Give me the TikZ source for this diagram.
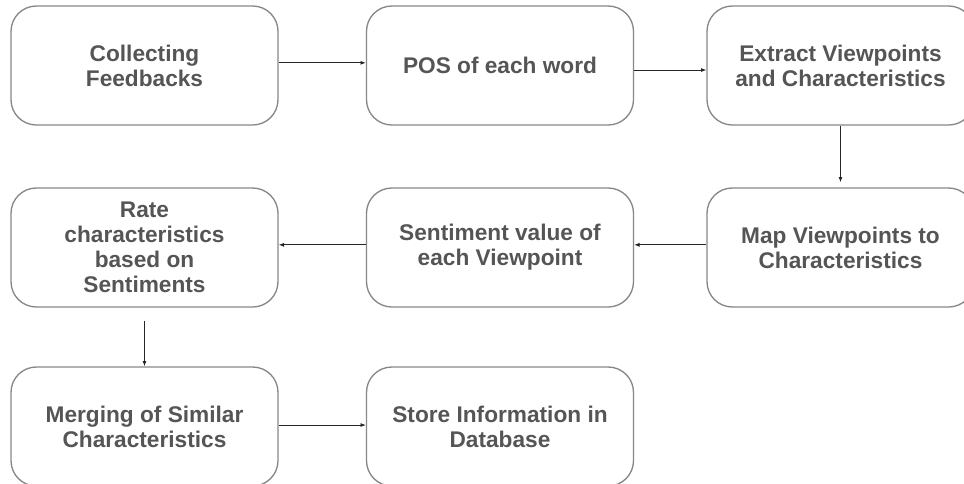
\documentclass[tikz,border=0pt]{standalone}
\usepackage{fontspec}
\setmainfont{Liberation Sans}
\usetikzlibrary{arrows.meta}

\definecolor{boxline}{RGB}{135,135,135}
\definecolor{boxtext}{RGB}{85,85,85}

\tikzset{every picture/.style={line width=0.75pt}}
\tikzset{
  stage/.style={draw=boxline, line width=1pt, rounded corners=19pt,
    minimum width=200.25pt, minimum height=89.25pt, inner sep=0pt,
    align=center, text=boxtext,
    font=\fontsize{17}{18.8}\selectfont\bfseries},
  link/.style={draw=black!85, line width=0.6pt, -{Latex[length=4pt,width=3pt]}}
}

\begin{document}
\begin{tikzpicture}[x=0.75pt,y=0.75pt,yscale=-1,xscale=1]
	\useasboundingbox (0,0) rectangle (964,483);

	%Rounded Rect -- first row
	\node[stage] (collect) at (144.5,65.5) {Collecting\\Feedbacks};
	\node[stage] (pos) at (500,65.5) {POS of each word};
	\node[stage] (extract) at (840.5,65.5) {Extract Viewpoints\\and Characteristics};
	%Rounded Rect -- second row
	\node[stage] (map) at (840.5,247.5) {Map Viewpoints to\\Characteristics};
	\node[stage] (sentiment) at (500,247.5) {Sentiment value of\\each Viewpoint};
	\node[stage] (rate) at (144.5,247.5) {Rate\\characteristics\\based on\\Sentiments};
	%Rounded Rect -- third row
	\node[stage] (merge) at (144.5,426.5) {Merging of Similar\\Characteristics};
	\node[stage] (store) at (500,426.5) {Store Information in\\Database};

	%Straight Lines (yshift runs downwards here, yscale=-1)
	\draw[link] ([yshift=-2pt]collect.east) -- ([yshift=-2pt]pos.west);
	\draw[link] ([yshift=3.4pt]pos.east) -- ([yshift=3.4pt]extract.west);
	\draw[link] (extract.south) -- ([yshift=-3.75pt]map.north);
	\draw[link] ([yshift=-2pt]map.west) -- ([yshift=-2pt]sentiment.east);
	\draw[link] ([yshift=-2pt]sentiment.west) -- ([yshift=-2pt]rate.east);
	\draw[link] ([yshift=9.75pt]rate.south) -- (merge.north);
	\draw[link] ([yshift=-1.1pt]merge.east) -- ([yshift=-1.1pt]store.west);

\end{tikzpicture}
\end{document}
